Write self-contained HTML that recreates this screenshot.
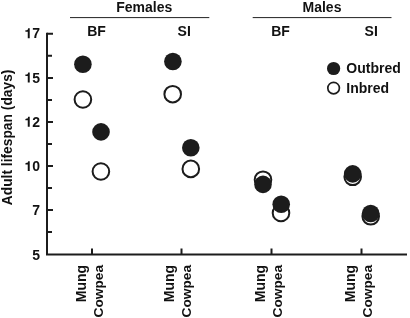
<!DOCTYPE html>
<html><head><meta charset="utf-8">
<style>
html,body{margin:0;padding:0;background:#fff;}
body{width:410px;height:318px;overflow:hidden;}
svg{display:block;will-change:transform;}
text{font-family:"Liberation Sans",sans-serif;font-weight:bold;font-size:14px;fill:#111;}
</style></head><body>
<svg width="410" height="318" viewBox="0 0 410 318">
<!-- group headers -->
<text x="144.2" y="12.3" text-anchor="middle">Females</text>
<text x="322" y="12.3" text-anchor="middle">Males</text>
<line x1="70" y1="17.6" x2="209.3" y2="17.6" stroke="#222" stroke-width="1"/>
<line x1="252.7" y1="17.6" x2="391.5" y2="17.6" stroke="#222" stroke-width="1"/>
<text x="96.5" y="35.7" text-anchor="middle">BF</text>
<text x="184.2" y="35.7" text-anchor="middle">SI</text>
<text x="280.5" y="35.7" text-anchor="middle">BF</text>
<text x="371.2" y="35.7" text-anchor="middle">SI</text>
<!-- axes -->
<g stroke="#1c1c1c" stroke-width="2" fill="none">
<path d="M47 32.8 V254.5 H407"/>
<path d="M47 33.8 H53 M47 55.8 H52 M47 77.9 H53 M47 99.9 H52 M47 121.9 H53 M47 144 H52 M47 166 H53 M47 188 H52 M47 210 H53 M47 232.1 H52"/>
<path d="M92 254 V248.4 M181.5 254 V248.4 M271.5 254 V248.4 M361.5 254 V248.4"/>
</g>
<g text-anchor="end">
<text x="40" y="38.2">7</text>
<text x="40" y="82.5">5</text>
<text x="40" y="126.8">2</text>
<text x="40" y="171.1">0</text>
<text x="40" y="215.4">7</text>
<text x="40" y="259.7">5</text>
</g>
<text transform="translate(12.2,137.4) rotate(-90)" text-anchor="middle" style="font-size:13.8px">Adult lifespan (days)</text>
<g fill="#111">
<path transform="translate(24.43,38.2) scale(0.014,-0.014)" d="M378 0L238 0L238 467L69 467L69 565C160 569 205 583 232 609C253 629 262 660 268 710L378 710Z"/>
<path transform="translate(24.43,82.5) scale(0.014,-0.014)" d="M378 0L238 0L238 467L69 467L69 565C160 569 205 583 232 609C253 629 262 660 268 710L378 710Z"/>
<path transform="translate(24.43,126.8) scale(0.014,-0.014)" d="M378 0L238 0L238 467L69 467L69 565C160 569 205 583 232 609C253 629 262 660 268 710L378 710Z"/>
<path transform="translate(24.43,171.1) scale(0.014,-0.014)" d="M378 0L238 0L238 467L69 467L69 565C160 569 205 583 232 609C253 629 262 660 268 710L378 710Z"/>
</g>
<!-- x labels -->
<g text-anchor="end">
<text transform="translate(86,264.9) rotate(-90)">Mung</text>
<text transform="translate(102.8,264.9) rotate(-90)" style="font-size:13.7px">Cowpea</text>
<text transform="translate(174.2,264.9) rotate(-90)">Mung</text>
<text transform="translate(191.1,264.9) rotate(-90)" style="font-size:13.7px">Cowpea</text>
<text transform="translate(265.3,264.9) rotate(-90)">Mung</text>
<text transform="translate(282.1,264.9) rotate(-90)" style="font-size:13.7px">Cowpea</text>
<text transform="translate(355.3,264.9) rotate(-90)">Mung</text>
<text transform="translate(372.1,264.9) rotate(-90)" style="font-size:13.7px">Cowpea</text>
</g>
<!-- data: open circles -->
<g fill="#fff" stroke="#1c1c1c" stroke-width="2">
<circle cx="82.9" cy="99.5" r="8.3"/>
<circle cx="100.9" cy="171.5" r="8.3"/>
<circle cx="172.7" cy="94.2" r="8.3"/>
<circle cx="190.8" cy="168.9" r="8.3"/>
<circle cx="263" cy="179.7" r="8.3"/>
<circle cx="281" cy="213" r="8.3"/>
<circle cx="352.7" cy="176.8" r="8.3"/>
<circle cx="370.7" cy="216.3" r="8.3"/>
</g>
<g fill="#1c1c1c">
<circle cx="82.9" cy="64.2" r="8.8"/>
<circle cx="101" cy="131.9" r="8.8"/>
<circle cx="172.9" cy="61.5" r="8.8"/>
<circle cx="190.8" cy="147.8" r="8.8"/>
<circle cx="263" cy="184.4" r="8.8"/>
<circle cx="281.2" cy="204.2" r="8.8"/>
<circle cx="352.7" cy="173.9" r="8.8"/>
<circle cx="370.7" cy="213.5" r="8.8"/>
</g>
<!-- legend -->
<circle cx="333.6" cy="68.5" r="6.6" fill="#1c1c1c"/>
<circle cx="333.6" cy="88.1" r="5.8" fill="#fff" stroke="#1c1c1c" stroke-width="1.7"/>
<text x="346.3" y="73.4">Outbred</text>
<text x="346.3" y="93">Inbred</text>
</svg>
</body></html>
